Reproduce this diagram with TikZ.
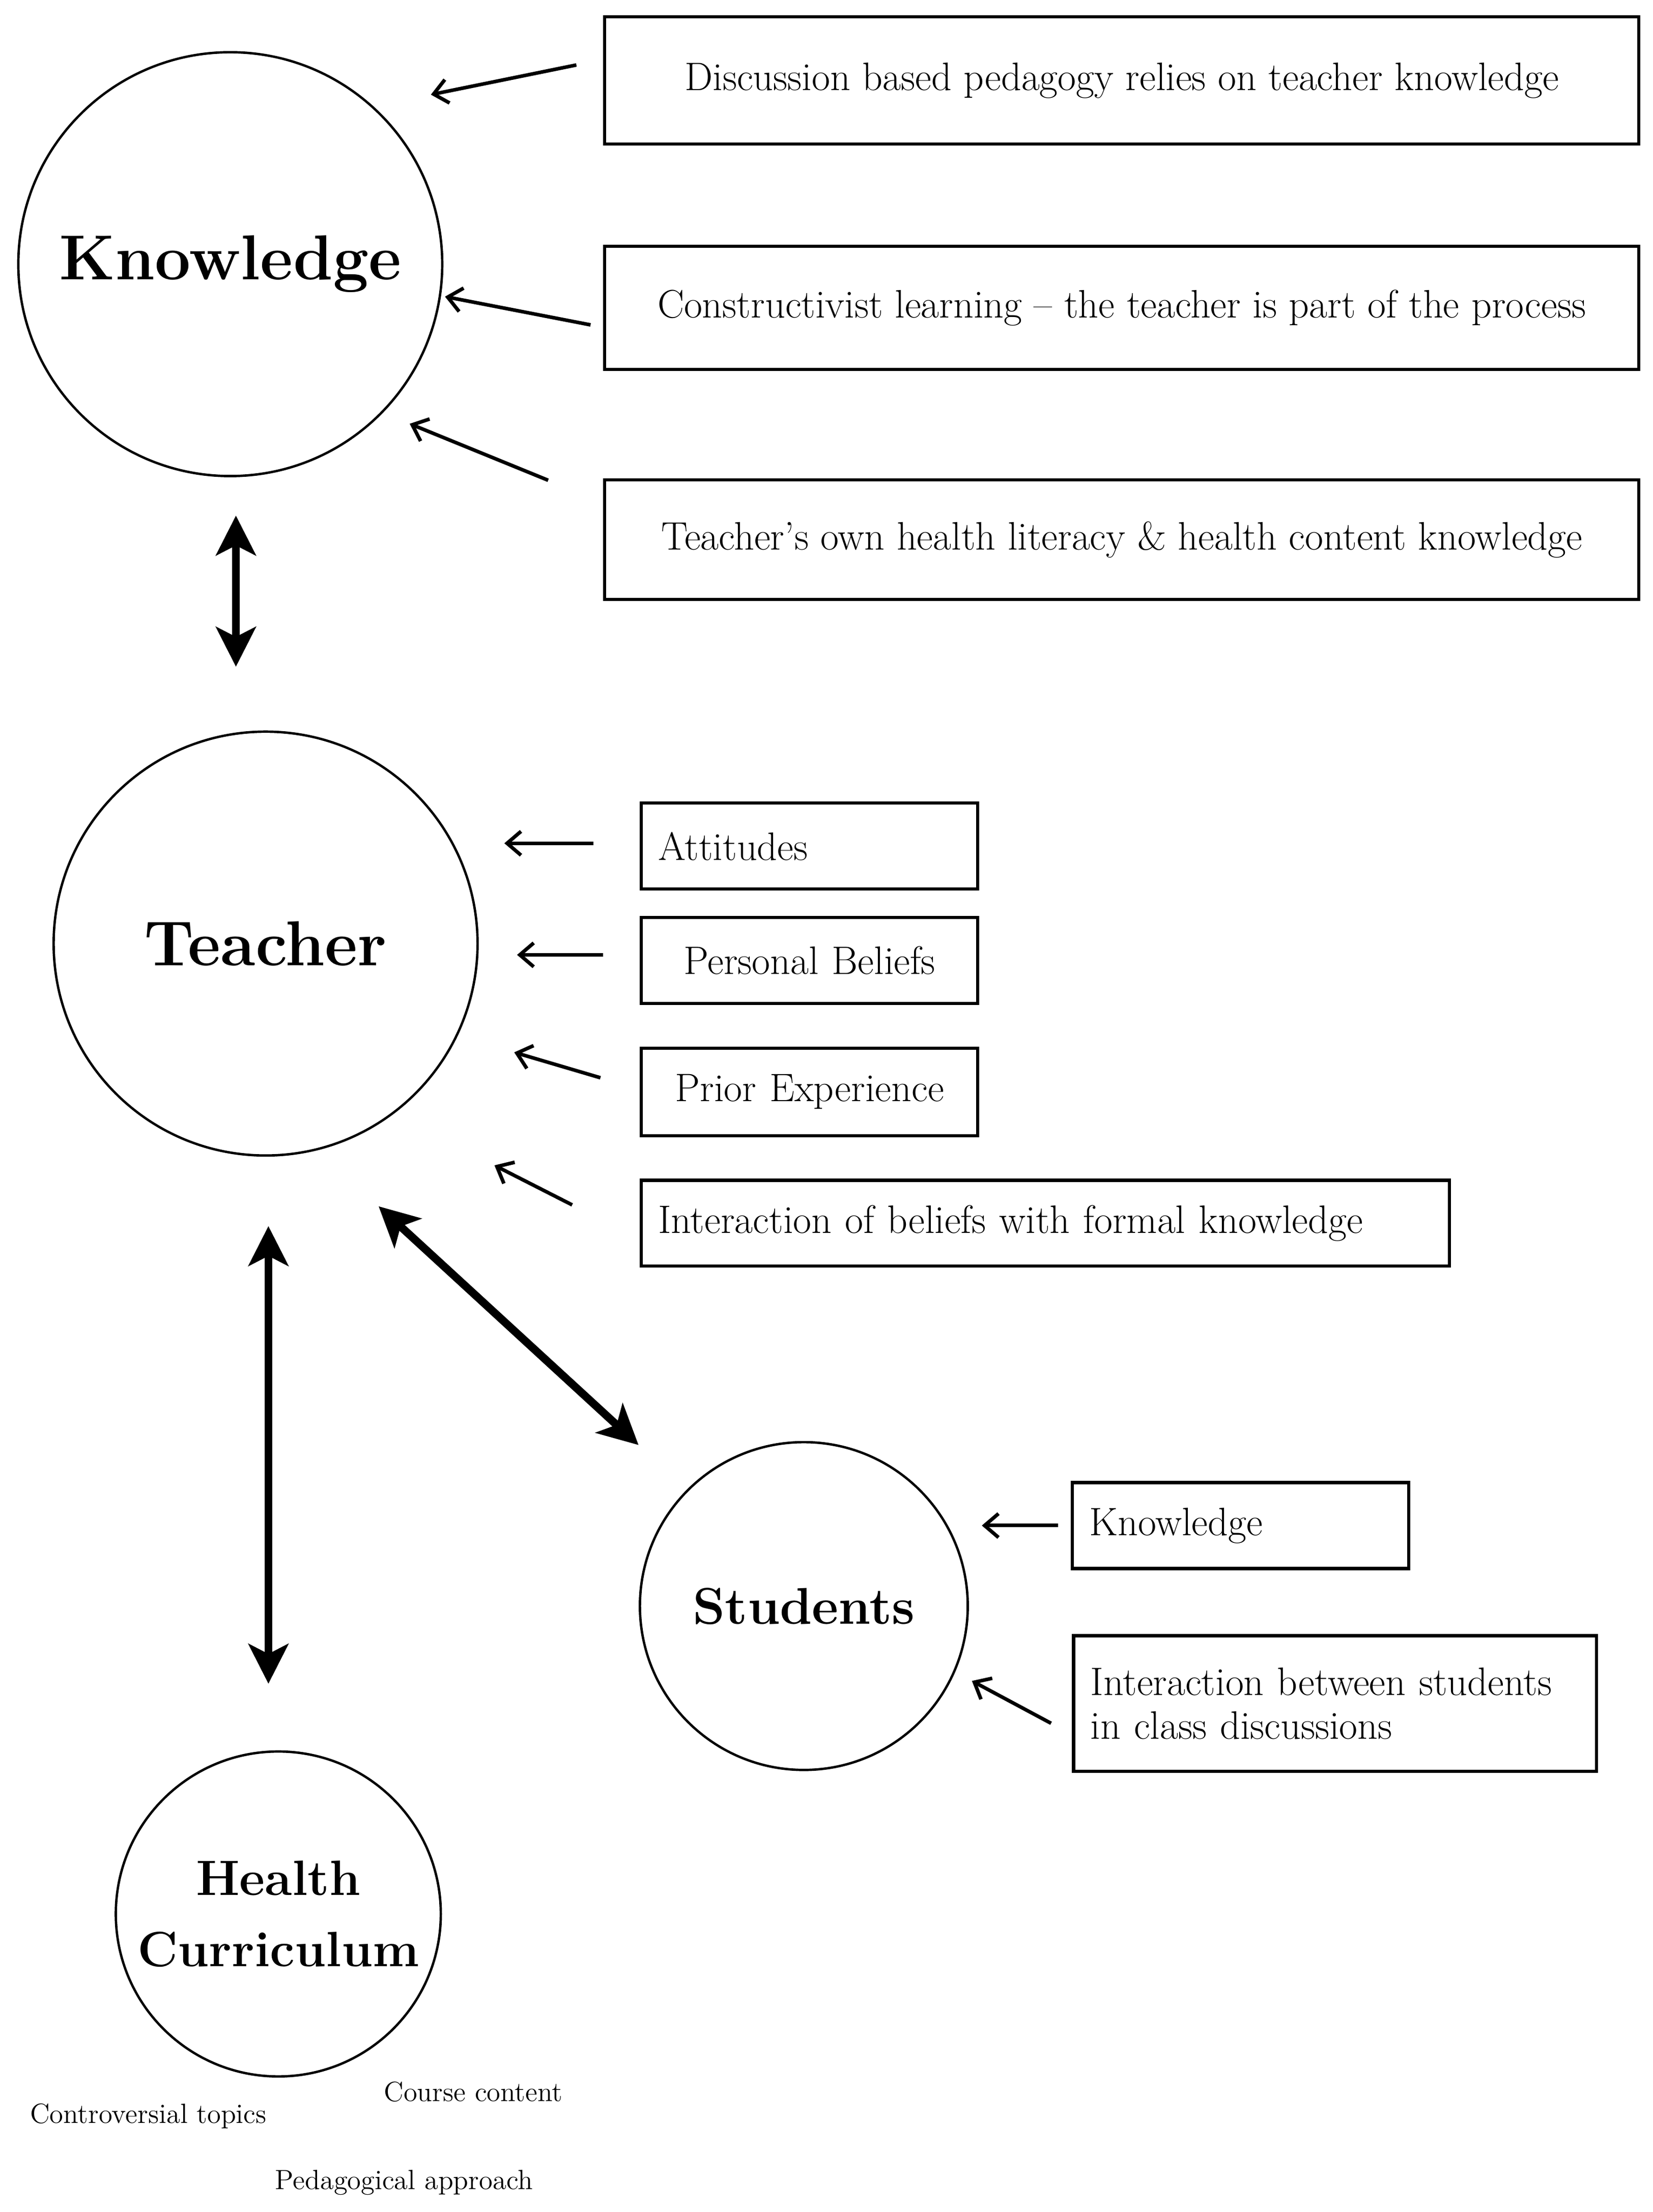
\documentclass[tikz,border=0pt]{standalone}
\usetikzlibrary{arrows.meta}
\tikzset{
  topic/.style={circle, draw, line width=1.2pt, minimum size=#1, inner sep=0pt, font=\fontsize{30}{36}\selectfont\bfseries, align=center},
  factor/.style={draw, line width=1.6pt, minimum height=#1, inner sep=0pt, font=\fontsize{20}{26}\selectfont},
  pointer/.style={-{Straight Barb[length=7pt,width=12pt]}, line width=1.8pt},
  link/.style={{Stealth[length=20pt,width=20pt,inset=5pt]}-{Stealth[length=20pt,width=20pt,inset=5pt]}, line width=4pt},
  note/.style={font=\fontsize{14}{17}\selectfont}
}
\begin{document}
\begin{tikzpicture}[x=0.025cm, y=-0.025cm]
\useasboundingbox (0,0) rectangle (1170,1566);
% main circles
\node[topic=7.5cm, font=\fontsize{32}{38}\selectfont\bfseries] (know) at (163,187) {Knowledge};
\node[topic=7.5cm, font=\fontsize{32}{38}\selectfont\bfseries] (teach) at (188,668) {Teacher};
\node[topic=5.8cm, font=\fontsize{26}{32}\selectfont\bfseries] (stud) at (569,1137) {Students};
\node[topic=5.75cm, font=\fontsize{25}{36}\selectfont\bfseries] (curr) at (197,1355) {Health\\Curriculum};

% boxes around knowledge
\node[factor=2.25cm, minimum width=18.3cm] (disc) at (794,57) {Discussion based pedagogy relies on teacher knowledge};
\node[factor=2.18cm, minimum width=18.3cm] (cons) at (794,218) {Constructivist learning -- the teacher is part of the process};
\node[factor=2.12cm, minimum width=18.3cm] (lit) at (794,382) {Teacher's own health literacy \& health content knowledge};

% boxes around teacher
\node[factor=1.52cm, text width=5.35cm, inner xsep=0.3cm, align=left] (att) at (573,599) {Attitudes};
\node[factor=1.52cm, text width=5.35cm, inner xsep=0.3cm, align=center] (bel) at (573,680) {Personal Beliefs};
\node[factor=1.55cm, text width=5.35cm, inner xsep=0.3cm, align=center] (exp) at (573,773) {Prior Experience};
\node[factor=1.52cm, text width=13.7cm, inner xsep=0.3cm, align=left] (inter) at (740,866) {Interaction of beliefs with formal knowledge};

% boxes around students
\node[factor=1.52cm, text width=5.35cm, inner xsep=0.3cm, align=left] (sknow) at (878,1080) {Knowledge};
\node[factor=2.4cm, text width=8.65cm, inner xsep=0.3cm, align=left, font=\fontsize{20}{22}\selectfont] (sint) at (945,1206) {Interaction between students\\in class discussions};

% curriculum notes
\node[note] (contr) at (105,1498) {Controversial topics};
\node[note] (course) at (335,1481) {Course content};
\node[note] (ped) at (286,1545) {Pedagogical approach};

% arrow ends
\coordinate (d1) at (408,46);  \coordinate (k1) at (305,67);
\coordinate (d2) at (418,230); \coordinate (k2) at (315,210);
\coordinate (d3) at (388,340); \coordinate (k3) at (290,300);
\coordinate (t1) at (420,597); \coordinate (e1) at (357,597);
\coordinate (t2) at (427,676); \coordinate (e2) at (366,676);
\coordinate (t3) at (425,763); \coordinate (e3) at (364,745);
\coordinate (t4) at (405,853); \coordinate (e4) at (350,825);
\coordinate (s1) at (749,1080); \coordinate (u1) at (695,1080);
\coordinate (s2) at (744,1220); \coordinate (u2) at (688,1190);
\coordinate (kt1) at (167,365); \coordinate (kt2) at (167,472);
\coordinate (tc1) at (190,868); \coordinate (tc2) at (190,1192);
\coordinate (ts1) at (268,854); \coordinate (ts2) at (452,1023);

\draw[pointer] (d1) -- (k1);
\draw[pointer] (d2) -- (k2);
\draw[pointer] (d3) -- (k3);
\draw[pointer] (t1) -- (e1);
\draw[pointer] (t2) -- (e2);
\draw[pointer] (t3) -- (e3);
\draw[pointer] (t4) -- (e4);
\draw[pointer] (s1) -- (u1);
\draw[pointer] (s2) -- (u2);

\draw[link] (kt1) -- (kt2);
\draw[link] (tc1) -- (tc2);
\draw[link] (ts1) -- (ts2);
\end{tikzpicture}
\end{document}
